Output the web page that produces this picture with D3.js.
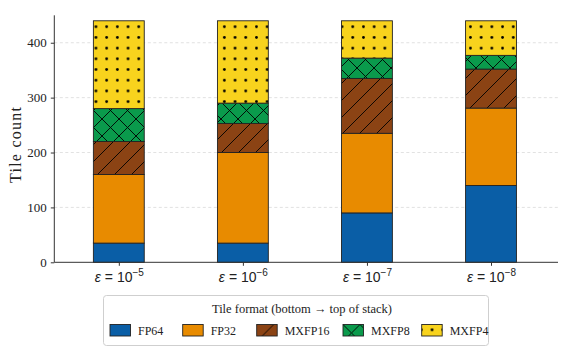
<!DOCTYPE html>
<html><head><meta charset="utf-8">
<script src="https://cdn.jsdelivr.net/npm/d3@7"></script>
<style>
html,body{margin:0;padding:0;background:#fff;}
svg{display:block;font-family:"Liberation Serif","DejaVu Serif",serif;}
</style></head>
<body><svg id="c" width="582" height="351"></svg>
<script>
const categories = ["-5", "-6", "-7", "-8"];
const formats = ["FP64", "FP32", "MXFP16", "MXFP8", "MXFP4"];
const FP64   = [35, 35, 90, 140];
const FP32   = [125, 165, 145, 141];
const MXFP16 = [60, 53, 100, 71];
const MXFP8  = [60, 37, 37, 25];
const MXFP4  = [160, 150, 68, 63];
const yTicks = [0, 100, 200, 300, 400];
const legendTitle = "Tile format (bottom \u2192 top of stack)";
const yLabel = "Tile count";

const colors = {FP64:"#0a5ea6", FP32:"#e88b00", MXFP16:"#8b4314", MXFP8:"#0a9a4c", MXFP4:"#f8d31d"};
const hatch = {FP64:null, FP32:null, MXFP16:"diag", MXFP8:"cross", MXFP4:"dots"};
const seriesVals = {FP64, FP32, MXFP16, MXFP8, MXFP4};

const svg = d3.select("#c");
const defs = svg.append("defs");
// hatch patterns
const T = 17;
const pd = defs.append("pattern").attr("id","diag").attr("patternUnits","userSpaceOnUse").attr("width",T).attr("height",T);
pd.append("path").attr("d",`M0,${T} L${T},0 M-2,2 L2,-2 M${T-2},${T+2} L${T+2},${T-2}`).attr("stroke","#000").attr("stroke-width",0.9);
const pc = defs.append("pattern").attr("id","cross").attr("patternUnits","userSpaceOnUse").attr("width",T).attr("height",T);
pc.append("path").attr("d",`M0,${T} L${T},0 M-2,2 L2,-2 M${T-2},${T+2} L${T+2},${T-2} M0,0 L${T},${T} M-2,${T-2} L2,${T+2} M${T-2},-2 L${T+2},2`).attr("stroke","#000").attr("stroke-width",0.9);
const D = 10.7;
const pdt = defs.append("pattern").attr("id","dots").attr("patternUnits","userSpaceOnUse").attr("width",D).attr("height",D).attr("x",5).attr("y",0);
pdt.append("circle").attr("cx",D/2).attr("cy",D/2).attr("r",1.4).attr("fill","#000");

const x = d3.scaleLinear().domain([-0.52, 3.54]).range([54.3, 558]);
const y = d3.scaleLinear().domain([0, 450]).range([262.3, 15.3]);
const bw = x(0.41) - x(0);

// grid
svg.append("g").selectAll("line").data(yTicks.filter(d=>d>0)).join("line")
  .attr("x1", x(-0.52)).attr("x2", x(3.54)).attr("y1", d=>y(d)).attr("y2", d=>y(d))
  .attr("stroke","#d9d9d9").attr("stroke-width",0.8).attr("stroke-dasharray","3,2.5");

// stacked bars
const stack = d3.stack().keys(formats)(categories.map((c,i)=>{const o={cat:i}; formats.forEach(f=>o[f]=seriesVals[f][i]); return o;}));
const bars = svg.append("g");
stack.forEach(layer=>{
  const f = layer.key;
  const g = bars.append("g");
  g.selectAll("rect.f").data(layer).join("rect").attr("class","f")
    .attr("x", (d,i)=>x(i)-bw/2).attr("width", bw)
    .attr("y", d=>y(d[1])).attr("height", d=>y(d[0])-y(d[1]))
    .attr("fill", colors[f]);
  if (hatch[f]) {
    g.selectAll("rect.h").data(layer).join("rect").attr("class","h")
      .attr("x", (d,i)=>x(i)-bw/2).attr("width", bw)
      .attr("y", d=>y(d[1])).attr("height", d=>y(d[0])-y(d[1]))
      .attr("fill", `url(#${hatch[f]})`);
  }
  g.selectAll("rect.s").data(layer).join("rect").attr("class","s")
    .attr("x", (d,i)=>x(i)-bw/2).attr("width", bw)
    .attr("y", d=>y(d[1])).attr("height", d=>y(d[0])-y(d[1]))
    .attr("fill","none").attr("stroke","#222").attr("stroke-width",0.9);
});

// axes
const yAxis = svg.append("g").attr("transform",`translate(${x(-0.52)},0)`)
  .call(d3.axisLeft(y).tickValues(yTicks).tickSize(3.5).tickPadding(4).tickFormat(d3.format("d")));
yAxis.select(".domain").attr("d", `M0,${y(450)}V${y(0)}`).attr("stroke","#333").attr("stroke-width",1);
yAxis.selectAll(".tick line").attr("stroke","#333");
yAxis.selectAll("text").attr("font-size",13).attr("fill","#222").attr("font-family","Liberation Serif, serif");

const xAxis = svg.append("g").attr("transform",`translate(0,${y(0)})`)
  .call(d3.axisBottom(x).tickValues([0,1,2,3]).tickSize(3.5).tickFormat(""));
xAxis.select(".domain").attr("d", `M${x(-0.52)},0H${x(3.54)}`).attr("stroke","#333").attr("stroke-width",1);
xAxis.selectAll(".tick line").attr("stroke","#333");
xAxis.selectAll(".tick").each(function(d){
  const t = d3.select(this).append("text").attr("y",19.5).attr("text-anchor","middle")
    .attr("fill","#222").attr("font-size",14);
  t.append("tspan").attr("font-style","italic").text("\u03b5");
  t.append("tspan").text(" = 10");
  t.append("tspan").attr("font-size",10).attr("dy",-6).text(categories[d].replace("-","\u2212"));
});

// y label
svg.append("text").attr("transform",`translate(21,145) rotate(-90)`)
  .attr("text-anchor","middle").attr("font-size",16).attr("fill","#222")
  .attr("textLength",76).attr("lengthAdjust","spacing").text(yLabel);

// legend
const lg = svg.append("g");
lg.append("rect").attr("x",103.5).attr("y",295.5).attr("width",385).attr("height",50).attr("rx",3)
  .attr("fill","#fff").attr("stroke","#cfcfcf").attr("stroke-width",1);
lg.append("text").attr("x",302).attr("y",313).attr("text-anchor","middle").attr("font-size",12.5).attr("fill","#222").text(legendTitle);
const lx = [110, 182.7, 256.7, 343, 421.7];
formats.forEach((f,i)=>{
  const gx = lg.append("g").attr("transform",`translate(${lx[i]},324.5)`);
  gx.append("rect").attr("width",20.5).attr("height",11.5).attr("fill",colors[f]);
  if (hatch[f]) gx.append("rect").attr("width",20.5).attr("height",11.5).attr("fill",`url(#${hatch[f]})`);
  gx.append("rect").attr("width",20.5).attr("height",11.5).attr("fill","none").attr("stroke","#222").attr("stroke-width",0.9);
  gx.append("text").attr("x",28).attr("y",10.5).attr("font-size",12).attr("fill","#222").text(f);
});
</script></body></html>
